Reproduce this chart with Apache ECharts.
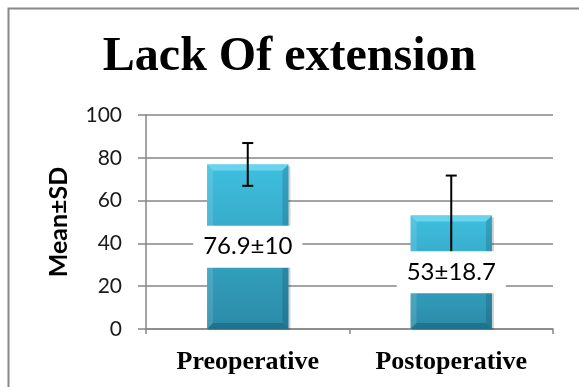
<!DOCTYPE html>
<html>
<head>
<meta charset="utf-8">
<script src="https://cdn.jsdelivr.net/npm/echarts@6/dist/echarts.min.js"></script>
<style>html,body{margin:0;padding:0;background:#fff}#c{width:579px;height:387px}</style>
</head>
<body>
<div id="c"></div>
<script>
var categories = ['Preoperative', 'Postoperative'];
var means = [76.9, 53];
var sds = [10, 18.7];
var labelTexts = ['76.9±10', '53±18.7'];
var yTicks = { min: 0, max: 100, interval: 20 };
var titleText = 'Lack Of extension';
var yName = 'Mean±SD';

var chart = echarts.init(document.getElementById('c'));
var grid = { left: 146, right: 26, top: 115, bottom: 58 };

function bevelItem(params, api) {
  var c = api.value(0), v = api.value(1);
  var top = api.coord([c, v]);
  var base = api.coord([c, 0]);
  var w = api.size([1, 0])[0] * 0.4;
  var x0 = top[0] - w / 2, x1 = top[0] + w / 2, y0 = top[1], y1 = base[1];
  var b = 6;
  return {
    type: 'group',
    children: [
      { type: 'rect', shape: { x: x0 + 2, y: y0 + 2, width: w, height: y1 - y0 - 1 },
        style: { fill: 'rgba(0,0,0,0.18)' }, z2: 0 },
      { type: 'rect', shape: { x: x0, y: y0, width: w, height: y1 - y0 },
        style: { fill: new echarts.graphic.LinearGradient(0, 0, 0, 1, [
          { offset: 0, color: '#3fbfdf' }, { offset: 1, color: '#2b8ba7' }]) }, z2: 1 },
      { type: 'polygon', shape: { points: [[x0, y0], [x1, y0], [x1 - b, y0 + b], [x0 + b, y0 + b]] },
        style: { fill: '#6ad3ee' }, z2: 2 },
      { type: 'polygon', shape: { points: [[x0, y0], [x0 + b, y0 + b], [x0 + b, y1 - b], [x0, y1]] },
        style: { fill: 'rgba(255,255,255,0.12)' }, z2: 2 },
      { type: 'polygon', shape: { points: [[x1, y0], [x1 - b, y0 + b], [x1 - b, y1 - b], [x1, y1]] },
        style: { fill: 'rgba(0,40,60,0.18)' }, z2: 2 },
      { type: 'polygon', shape: { points: [[x0, y1], [x0 + b, y1 - b], [x1 - b, y1 - b], [x1, y1]] },
        style: { fill: 'rgba(0,40,60,0.25)' }, z2: 2 }
    ]
  };
}

function errItem(params, api) {
  var c = api.value(0), lo = api.value(1), hi = api.value(2);
  var p1 = api.coord([c, hi]), p0 = api.coord([c, lo]);
  var cap = 5.5;
  var st = { stroke: '#000', lineWidth: 2 };
  return {
    type: 'group',
    children: [
      { type: 'line', shape: { x1: p0[0], y1: p0[1], x2: p1[0], y2: p1[1] }, style: st },
      { type: 'line', shape: { x1: p1[0] - cap, y1: p1[1], x2: p1[0] + cap, y2: p1[1] }, style: st },
      { type: 'line', shape: { x1: p0[0] - cap, y1: p0[1], x2: p0[0] + cap, y2: p0[1] }, style: st }
    ]
  };
}

var barData = categories.map(function (c, i) { return [i, means[i]]; });
var errData = categories.map(function (c, i) { return [i, means[i] - sds[i], means[i] + sds[i]]; });

chart.setOption({
  animation: false,
  graphic: [{
    type: 'rect', left: 6, top: 6, shape: { width: 700, height: 500 },
    style: { fill: 'none', stroke: '#888888', lineWidth: 2 }, silent: true
  }],
  title: {
    text: titleText, left: 'center', top: 29,
    textStyle: { fontFamily: 'Liberation Serif', fontWeight: 'bold', fontSize: 48, color: '#000' }
  },
  grid: grid,
  xAxis: {
    type: 'category', data: categories,
    axisLine: { lineStyle: { color: '#868686', width: 1.5 } },
    axisTick: { show: true, length: 5, lineStyle: { color: '#868686', width: 1.5 } },
    axisLabel: { interval: 0, hideOverlap: false, fontFamily: 'Liberation Serif', fontWeight: 'bold', fontSize: 26, color: '#000', margin: 20 }
  },
  yAxis: {
    type: 'value', min: yTicks.min, max: yTicks.max, interval: yTicks.interval,
    name: yName, nameLocation: 'middle', nameGap: 75,
    nameTextStyle: { fontFamily: 'Lato', fontWeight: 'bold', fontSize: 25, color: '#000' },
    axisLine: { show: true, lineStyle: { color: '#868686', width: 1.5 } },
    axisTick: { show: true, length: 8, lineStyle: { color: '#868686', width: 1.5 } },
    splitLine: { lineStyle: { color: '#868686', width: 1.5 } },
    axisLabel: { fontFamily: 'Lato', fontSize: 21, color: '#1a1a1a', margin: 24 }
  },
  series: [
    { type: 'custom', renderItem: bevelItem, data: barData, z: 2, encode: { x: 0, y: 1 } },
    { type: 'custom', renderItem: errItem, data: errData, z: 3, encode: { x: 0, y: [1, 2] } },
    {
      type: 'bar', data: means, barWidth: '40%', z: 4,
      itemStyle: { color: 'rgba(0,0,0,0)' },
      label: {
        show: true, position: 'inside',
        formatter: function (p) { return labelTexts[p.dataIndex]; },
        fontFamily: 'Lato', fontSize: 24, color: '#000',
        backgroundColor: '#fff', padding: [10, 10, 8, 10]
      }
    }
  ]
});
</script>
</body>
</html>
